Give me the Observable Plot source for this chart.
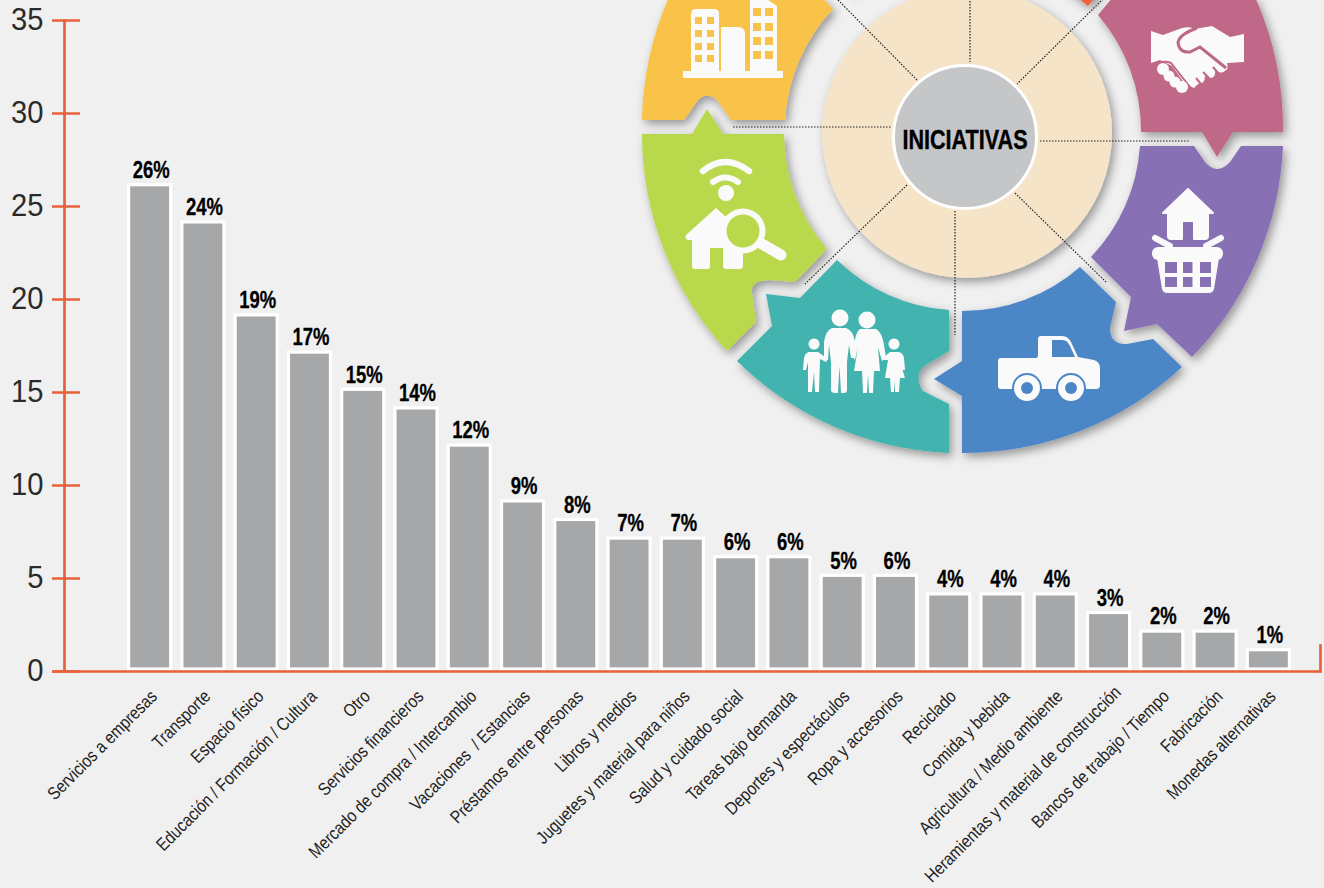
<!DOCTYPE html>
<html lang="es">
<head>
<meta charset="utf-8">
<title>Iniciativas</title>
<style>
html,body{margin:0;padding:0;background:#f0f0f0;overflow:hidden}
svg{display:block}
</style>
<script src="https://cdn.jsdelivr.net/npm/d3@7"></script>
<script src="https://cdn.jsdelivr.net/npm/@observablehq/plot@0.6"></script>
</head>
<body>
<div id="chart"></div>
<script>
const categories = ["Servicios a empresas","Transporte","Espacio físico","Educación / Formación / Cultura","Otro","Servicios financieros","Mercado de compra / Intercambio","Vacaciones  / Estancias","Préstamos entre personas","Libros y medios","Juguetes y material para niños","Salud y cuidado social","Tareas bajo demanda","Deportes y espectáculos","Ropa y accesorios","Reciclado","Comida y bebida","Agricultura / Medio ambiente","Heramientas y material de construcción","Bancos de trabajo / Tiempo","Fabricación","Monedas alternativas"];
const values = [26,24,19,17,15,14,12,9,8,7,7,6,6,5,5,4,4,4,3,2,2,1];
const valueLabels = ["26%","24%","19%","17%","15%","14%","12%","9%","8%","7%","7%","6%","6%","5%","6%","4%","4%","4%","3%","2%","2%","1%"];
const yTicks = [0,5,10,15,20,25,30,35];
const centreLabel = "INICIATIVAS";

const table = categories.map((c,i)=>({category:c,value:values[i],label:valueLabels[i]}));
const RED = "#e9603a";
const FONT = "'Liberation Sans',sans-serif";

function wheel(){
  const WHITE="#fafafa", Y="#f9c248", P="#bf6787", V="#8870b5", B="#4c86c6", T="#43b3ae", G="#bad84c";
  const dots=[[733,127,892,127],[1040,141,1190,141],[970,-2,970,62],[1103,-1,1017,84],[838,0,917,80],[907,185,805,284],[955,211,955,335],[1015,193,1106,282]];
  const win=(xs,ys,w,h,f)=>xs.flatMap(x=>ys.map(y=>`<rect x="${x}" y="${y}" width="${w}" height="${h}" fill="${f}"/>`)).join("");
  const html=`
  <defs><filter id="sh" x="-20%" y="-20%" width="150%" height="150%"><feDropShadow dx="3" dy="4" stdDeviation="5" flood-color="#000" flood-opacity=".38"/></filter></defs>
  <g filter="url(#sh)">
    <path fill="#f2643d" d="M851,-6A178,178 0 0 1 1073,-6L1088,6L1098,-6L1098,-100L851,-100Z"/>
    <path fill="${Y}" d="M642,120L684,120L698,100Q707,91 717,100L731,120L785,120A178,178 0 0 1 833,9L822,-3L669,-3A321,321 0 0 0 642,120Z"/>
    <path fill="${P}" d="M1141,132L1202,132L1217,157L1233,132L1283,132A321,321 0 0 0 1255,-3L1113,-3L1098,15A178,178 0 0 1 1141,132Z"/>
    <path fill="${V}" d="M1140,146L1194,146L1205,162Q1217,176 1230,162L1241,146L1283,146A321,321 0 0 1 1192,357L1157,324L1124,331L1131,297L1091,257A178,178 0 0 0 1140,146Z"/>
    <path fill="${B}" d="M962,311A178,178 0 0 0 1080,267L1116,302L1110,328Q1110,345 1127,344L1153,339L1182,367A321,321 0 0 1 962,453L962,396L934,379L962,361Z"/>
    <path fill="${T}" d="M837,260A178,178 0 0 0 949,310L949,351L923,367Q914,378 923,391L949,404L949,453A321,321 0 0 1 737,361L772,326L766,294L800,298Z"/>
    <path fill="${G}" d="M642,134L692,134L707,109L723,134L784,134A178,178 0 0 0 827,249L795,282L770,280Q750,280 752,293L756,322L727,351A321,321 0 0 1 642,134Z"/>
    <circle cx="967" cy="133" r="145" fill="#f5e4c8"/>
  </g>
  <g stroke="#222" stroke-width="1.2" stroke-dasharray="1.5 1.5" fill="none">
    ${dots.map(d=>`<line x1="${d[0]}" y1="${d[1]}" x2="${d[2]}" y2="${d[3]}"/>`).join("")}
  </g>
  <circle cx="965" cy="137" r="71.5" fill="#c5c6c8" stroke="#fff" stroke-width="3"/>
  <text class="condense" x="965" y="149" text-anchor="middle" font-family="${FONT}" font-weight="700" font-size="27" fill="#000" stroke="#000" stroke-width=".4">${centreLabel}</text>

  <g fill="${WHITE}">
    <!-- buildings -->
    <rect x="683" y="71" width="100" height="7"/>
    <path d="M691,71V14Q691,9 696,9H714Q719,9 719,14V71Z"/>
    <path d="M721,71V27H738Q745,27 745,34V71Z"/>
    <path d="M750,71V-2H765L777,6V71Z"/>
    ${win([695,707],[17,30,43,55],7,7,Y)}
    ${win([753,765],[8,23,37,51],8,8,Y)}

    <!-- handshake -->
    <path d="M1151,31L1163,35L1182,28Q1190,26 1195,29L1212,26L1230,37L1244,34L1244,62L1227,63Q1229,68 1225,71Q1221,74 1217,71L1215,70Q1216,77 1211,78L1205,76Q1205,84 1198,84L1194,88L1185,84L1172,66L1160,60L1151,63Z"/>
    <path d="M1197,28Q1180,34 1178,42Q1179,53 1190,52L1200,47L1226,68" fill="none" stroke="${P}" stroke-width="3"/>
    <path d="M1213,67L1218,73M1203,72L1209,78M1196,78L1201,84" stroke="${P}" stroke-width="2" fill="none"/>
    <path d="M1153,67Q1162,59 1171,63L1190,87" stroke="${P}" stroke-width="2" fill="none"/>
    <circle cx="1163" cy="69" r="6"/><circle cx="1169" cy="76" r="5.5"/><circle cx="1175" cy="82" r="5.5"/><circle cx="1182" cy="87" r="6"/>

    <!-- wifi / house / magnifier -->
    <path d="M703,171Q725,153 749,171" fill="none" stroke="${WHITE}" stroke-width="6.5" stroke-linecap="round"/>
    <path d="M713,182Q725,173 738,182" fill="none" stroke="${WHITE}" stroke-width="6" stroke-linecap="round"/>
    <circle cx="726" cy="193" r="8"/>
    <path d="M716,208L686,235Q684,240 690,240L692,240V266Q692,269 695,269H708Q710,269 710,266V248H723V266Q723,269 726,269H740Q743,269 743,266V235L735,225Z"/>
    <circle cx="743" cy="231" r="22.5"/>
    <circle cx="743" cy="231" r="16.5" fill="${G}"/>
    <path d="M762,244L781,255" stroke="${WHITE}" stroke-width="11" stroke-linecap="round"/>

    <!-- basket -->
    <path d="M1188,189L1163,213L1168,213V236Q1168,239 1171,239H1182V221H1194V239H1205Q1208,239 1208,236V213L1213,213Z" stroke="${WHITE}" stroke-width="2" stroke-linejoin="round"/>
    <path d="M1155,238L1170,246M1221,238L1206,246" stroke="${WHITE}" stroke-width="6" stroke-linecap="round"/>
    <rect x="1152" y="247" width="71" height="13" rx="6"/>
    <path d="M1157,258H1219L1214,289Q1213,293 1209,293H1167Q1163,293 1162,289Z"/>
    ${[[1165,12],[1183,9.5],[1200,11]].flatMap(([x,w])=>[[262,11],[277,10]].map(([y,h])=>`<rect x="${x}" y="${y}" width="${w}" height="${h}" fill="${V}"/>`)).join("")}

    <!-- family -->
    <circle cx="840" cy="318" r="8.5"/><circle cx="867" cy="320" r="8.5"/><circle cx="814" cy="344" r="5.5"/><circle cx="894" cy="344" r="5.5"/>
    <path d="M832,328H846Q853,330 855,342L855,358L851,358L849,345L847,362V390Q847,393 844,393H841L839.5,366L838,393H835Q831,393 831,390V362L829,345L828,360L824,360L824,342Q826,330 832,328Z"/>
    <path d="M860,329H876Q882,332 884,345L886,358L882,361L878,347L880,371H874L873,393H869L868,374L867,393H863L862,371H854L858,347L855,360L852,356L855,340Q856,332 860,329Z"/>
    <path d="M809,352H818L828,359L826,362L820,359L819,392H815L814,372L812,392H808L808,362L806,370L803,370L804,358Q805,353 809,352Z"/>
    <path d="M890,352H899Q903,353 904,358L905,370L902,370L900,362L905,378H900L899,392H895L894.5,380L894,392H891L890,378H885L888,360L884,360L884,357Z"/>

    <!-- truck -->
    <path d="M998,361Q998,358 1001,358H1036Q1038,358 1038,355V339Q1038,336 1041,336H1062Q1068,336 1071,342L1078,357L1094,360Q1100,362 1100,368V385Q1100,389 1096,389H1001Q998,389 998,386Z"/>
    <path d="M1052,340H1063Q1067,340 1070,346L1075,357H1052Z" fill="${B}"/>
    ${[1027,1071].map(x=>`<circle cx="${x}" cy="388" r="15" fill="${B}"/><circle cx="${x}" cy="388" r="13"/><circle cx="${x}" cy="388" r="6" fill="${B}"/>`).join("")}
  </g>`;
  const g=d3.create("svg:g");
  g.html(html);
  return g.node();
}

const plot = Plot.plot({
  width:1324, height:888,
  marginTop:20, marginBottom:217, marginLeft:52, marginRight:4,
  style:{background:"#f0f0f0",fontFamily:FONT,overflow:"visible"},
  x:{domain:categories,range:[123,1295],paddingInner:0.21,paddingOuter:0.105,round:false,label:null},
  y:{domain:[0,35],label:null},
  marks:[
    wheel,
    Plot.barY(table,{x:"category",y:"value",fill:"#a6a7a9",stroke:"#fff",strokeWidth:3.2,insetTop:-2.7,insetBottom:2}),
    Plot.axisY(yTicks,{anchor:"left",tickSize:-28,tickPadding:37,stroke:RED,strokeWidth:2.5,fill:"#2a2a2a",fontSize:31,tickFormat:d=>d,label:null}),
    Plot.frame({anchor:"left",dx:12,stroke:RED,strokeWidth:2.7}),
    Plot.frame({anchor:"right",insetTop:625,stroke:RED,strokeWidth:2.7}),
    Plot.ruleY([0],{stroke:RED,strokeWidth:2.7}),
    Plot.text(table,{x:"category",y:"value",text:"label",lineAnchor:"bottom",dx:1,dy:-10,fontWeight:700,fontSize:24,fill:"#000",stroke:"#000",strokeWidth:0.3,className:"vlabel"}),
    Plot.axisX(categories.filter(c=>!c.startsWith("Heram")),{anchor:"bottom",tickSize:0,tickPadding:0,tickRotate:-45,dx:4,dy:22,fontSize:18,fill:"#222",label:null}),
    Plot.axisX(categories.filter(c=>c.startsWith("Heram")),{anchor:"bottom",tickSize:0,tickPadding:0,tickRotate:-45,dx:9,dy:18,fontSize:18,fill:"#222",label:null})
  ]
});
document.getElementById("chart").appendChild(plot);

// narrow the glyphs, as in the reference's condensed type
function condense(nodes,k){
  nodes.forEach(t=>{
    t.setAttribute("textLength",t.getComputedTextLength()*k);
    t.setAttribute("lengthAdjust","spacingAndGlyphs");
  });
}
condense(plot.querySelectorAll(".condense"),0.8);
condense(plot.querySelectorAll(".vlabel text"),0.77);
condense(plot.querySelectorAll('[aria-label="x-axis tick label"] text'),0.85);
condense(plot.querySelectorAll('[aria-label="y-axis tick label"] text'),0.94);
</script>
</body>
</html>
